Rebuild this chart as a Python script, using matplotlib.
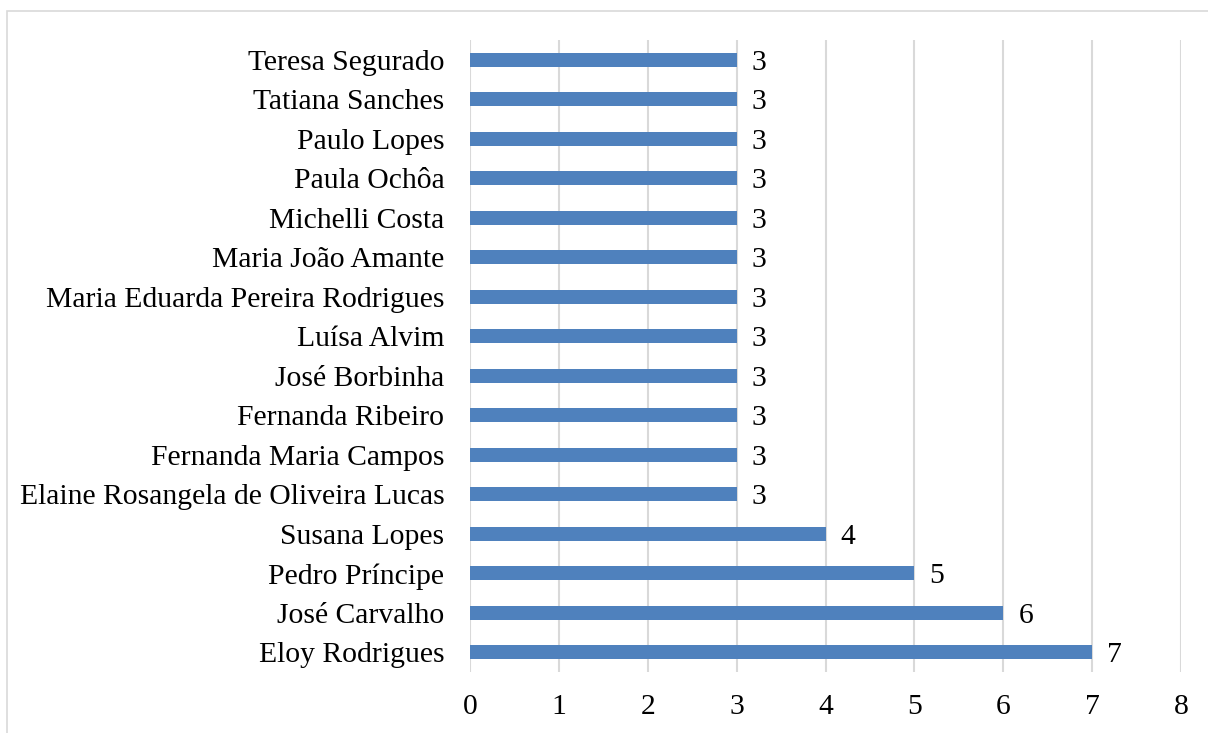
import matplotlib.pyplot as plt
from matplotlib.patches import Rectangle

names = [
    "Eloy Rodrigues", "José Carvalho", "Pedro Príncipe", "Susana Lopes",
    "Elaine Rosangela de Oliveira Lucas", "Fernanda Maria Campos",
    "Fernanda Ribeiro", "José Borbinha", "Luísa Alvim",
    "Maria Eduarda Pereira Rodrigues", "Maria João Amante", "Michelli Costa",
    "Paula Ochôa", "Paulo Lopes", "Tatiana Sanches", "Teresa Segurado",
]
counts = [7, 6, 5, 4, 3, 3, 3, 3, 3, 3, 3, 3, 3, 3, 3, 3]
xticks = [0, 1, 2, 3, 4, 5, 6, 7, 8]

plt.rcParams['font.family'] = ['Liberation Serif', 'DejaVu Serif']
FS = 21.3

W, H = 1208, 733
fig = plt.figure(figsize=(W / 100, H / 100), dpi=100)

# chart area frame
fig.patches.append(Rectangle((7 / W, -0.1), 1.2, 1 - 11 / H + 0.1,
                             transform=fig.transFigure, fill=False,
                             edgecolor='#D9D9D9', linewidth=1.2))

ax = fig.add_axes([470 / W, 61 / H, (1181 - 470) / W, (672 - 40) / H])
y = list(range(len(names)))
ax.barh(y, counts, height=0.36, color='#4F81BD', zorder=3)
for yi, v in zip(y, counts):
    ax.text(v + 0.17, yi, str(v), va='center_baseline', ha='left',
            fontsize=FS, color='black')

ax.set_xlim(0, 8)
ax.set_ylim(-0.5, len(names) - 0.5)
ax.set_xticks(xticks)
ax.set_xticklabels([str(t) for t in xticks])
ax.set_yticks(y)
ax.set_yticklabels(names)
ax.tick_params(axis='both', length=0, labelsize=FS, colors='black')
ax.tick_params(axis='x', pad=16)
ax.tick_params(axis='y', pad=18.5)
ax.grid(axis='x', color='#D9D9D9', linewidth=1.5, zorder=0)
for s in ax.spines.values():
    s.set_visible(False)

fig.savefig('out.png', dpi=100)
